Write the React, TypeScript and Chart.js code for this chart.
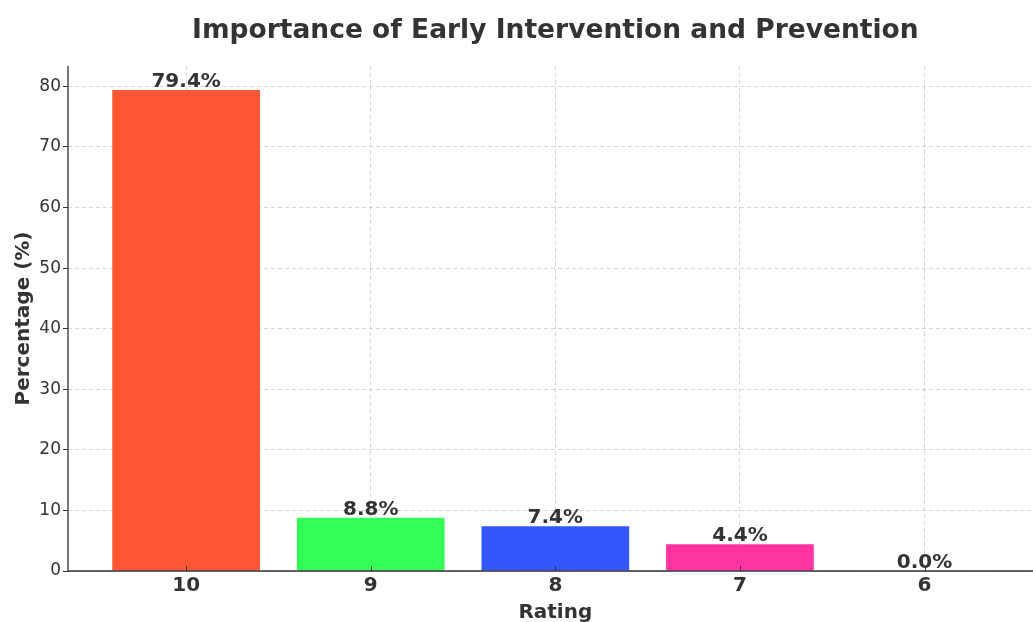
import { useEffect, useRef } from "react";
import { Chart, registerables } from "chart.js";

Chart.register(...registerables);

const titleText = "Importance of Early Intervention and Prevention";
const xAxisLabel = "Rating";
const yAxisLabel = "Percentage (%)";

const ratings = ["10", "9", "8", "7", "6"];
const percentages = [79.4, 8.8, 7.4, 4.4, 0.0];
const barColors = ["#FF5733", "#33FF57", "#3357FF", "#FF33A1", "#A133FF"];
const yTickValues = [0, 10, 20, 30, 40, 50, 60, 70, 80];

const FONT = "'DejaVu Sans', 'Liberation Sans', sans-serif";
const TEXT = "#333333";

// Plot-area geometry of the canvas
const PLOT_LEFT = 68;
const PLOT_TOP = 66;
const PLOT_BOTTOM = 571;
const CANVAS_W = 1033;
const CANVAS_H = 622;
const X_MIN = -0.64;
const CAT_STEP_PX = 184.6;
const X_MAX = X_MIN + (CANVAS_W - PLOT_LEFT) / CAT_STEP_PX;
const Y_MAX = Math.max(...percentages) * 1.05;

const decorations = {
  id: "decorations",
  afterDatasetsDraw(chart: any) {
    const { ctx } = chart;
    const meta = chart.getDatasetMeta(0);
    ctx.save();
    ctx.fillStyle = TEXT;
    ctx.font = `bold 20px ${FONT}`;
    ctx.textAlign = "center";
    ctx.textBaseline = "alphabetic";
    meta.data.forEach((bar: any, i: number) => {
      ctx.fillText(`${percentages[i].toFixed(1)}%`, bar.x, bar.y - 3);
    });
    ctx.restore();
  },
  afterDraw(chart: any) {
    const { ctx, chartArea, scales } = chart;
    ctx.save();
    // spines
    ctx.strokeStyle = "#333333";
    ctx.lineWidth = 1.3;
    ctx.beginPath();
    ctx.moveTo(chartArea.left, chartArea.top);
    ctx.lineTo(chartArea.left, chartArea.bottom);
    ctx.lineTo(chartArea.right, chartArea.bottom);
    ctx.stroke();
    // x tick marks
    ctx.lineWidth = 1;
    ratings.forEach((_, i) => {
      const x = Math.round(scales.x.getPixelForValue(i)) + 0.5;
      ctx.beginPath();
      ctx.moveTo(x, chartArea.bottom - 5);
      ctx.lineTo(x, chartArea.bottom);
      ctx.stroke();
    });
    // centre of the full (symmetric) axes span
    const cx = (chartArea.left + scales.x.getPixelForValue(ratings.length - 1 - X_MIN)) / 2;
    // title
    ctx.fillStyle = TEXT;
    ctx.textAlign = "center";
    ctx.textBaseline = "alphabetic";
    ctx.font = `bold 26.5px ${FONT}`;
    ctx.fillText(titleText, cx, 37.5);
    // x axis label
    ctx.font = `bold 20px ${FONT}`;
    ctx.fillText(xAxisLabel, cx, 617.5);
    // y axis label
    ctx.translate(29, (chartArea.top + chartArea.bottom) / 2);
    ctx.rotate(-Math.PI / 2);
    ctx.fillText(yAxisLabel, 0, 0);
    ctx.restore();
  },
};

export default function App() {
  const canvasRef = useRef<HTMLCanvasElement | null>(null);

  useEffect(() => {
    if (!canvasRef.current) return;
    const chart = new Chart(canvasRef.current, {
      type: "bar",
      data: {
        datasets: [
          {
            data: percentages.map((v, i) => ({ x: i, y: v })),
            backgroundColor: barColors,
            borderWidth: 0,
            barPercentage: 0.8,
            categoryPercentage: 1,
          },
        ],
      },
      options: {
        animation: false,
        responsive: false,
        maintainAspectRatio: false,
        layout: { padding: { top: PLOT_TOP, right: 0, left: 0, bottom: 0 } },
        plugins: {
          legend: { display: false },
          title: { display: false },
          tooltip: { enabled: false },
        },
        scales: {
          x: {
            type: "linear",
            min: X_MIN,
            max: X_MAX,
            offset: false,
            afterBuildTicks: (scale: any) => {
              scale.ticks = ratings.map((_, i) => ({ value: i }));
            },
            afterFit: (scale: any) => {
              scale.height = CANVAS_H - PLOT_BOTTOM;
            },
            ticks: {
              autoSkip: false,
              maxRotation: 0,
              padding: 3,
              color: TEXT,
              font: { family: FONT, size: 20, weight: "bold" },
              callback: (v: any) => ratings[Math.round(Number(v))] ?? "",
            },
            grid: {
              offset: false,
              color: "rgba(180,180,180,0.7)",
              lineWidth: 0.8,
              drawTicks: false,
            },
            border: { display: false, dash: [4, 3] },
          },
          y: {
            type: "linear",
            min: 0,
            max: Y_MAX,
            afterBuildTicks: (scale: any) => {
              scale.ticks = yTickValues.map((v) => ({ value: v }));
            },
            afterFit: (scale: any) => {
              scale.width = PLOT_LEFT;
            },
            ticks: {
              padding: 2,
              color: TEXT,
              font: { family: FONT, size: 17 },
              callback: (v: any) => String(v),
            },
            grid: {
              color: "rgba(180,180,180,0.7)",
              lineWidth: 0.8,
              drawTicks: true,
              tickLength: 5,
              tickColor: "#333333",
              tickBorderDash: [],
              tickWidth: 1,
            },
            border: { display: false, dash: [4, 3] },
          },
        },
      },
      plugins: [decorations],
    });
    return () => chart.destroy();
  }, []);

  return (
    <div style={{ position: "fixed", left: 0, top: 0, width: CANVAS_W, height: CANVAS_H, background: "#ffffff" }}>
      <canvas ref={canvasRef} width={CANVAS_W} height={CANVAS_H} style={{ display: "block" }} />
    </div>
  );
}
